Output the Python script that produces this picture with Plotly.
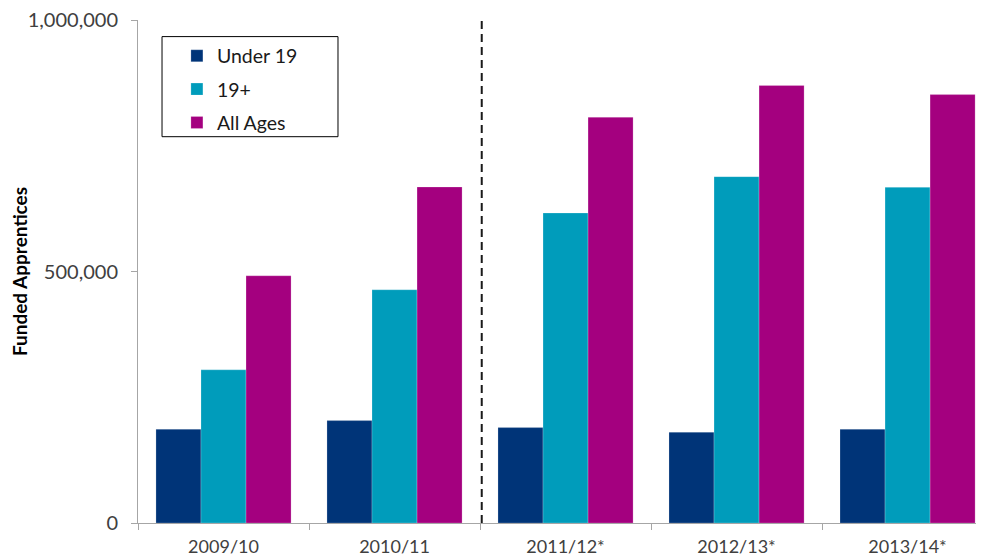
import plotly.graph_objects as go

categories = ["2009/10", "2010/11", "2011/12*", "2012/13*", "2013/14*"]
under_19 = [186500, 203600, 189700, 180500, 186500]
age_19_plus = [304500, 463700, 616300, 688600, 667300]
all_ages = [491500, 668000, 806600, 869700, 851700]

y_tickvals = [0, 500000, 1000000]
y_ticktext = ["0", "500,000", "1,000,000"]

FONT = "Lato"
TXT = "#404040"

fig = go.Figure()
series = [
    ("Under 19", under_19, "#003478"),
    ("19+", age_19_plus, "#009CBB"),
    ("All Ages", all_ages, "#A4007F"),
]
for name, vals, col in series:
    fig.add_trace(go.Bar(
        x=categories, y=vals, name=name, legendgroup=name,
        marker=dict(color=col, line=dict(color="rgba(255,255,255,0.35)", width=0.6)),
    ))

# period break marker
fig.add_shape(type="line", xref="x", yref="y", x0=1.51, x1=1.51, y0=0, y1=1000000,
              line=dict(color="#1a1a1a", width=2, dash="8px,5px"))
# legend frame
fig.add_shape(type="rect", xref="paper", yref="paper", x0=0.0284, x1=0.2364, y0=0.768, y1=0.967,
              line=dict(color="#000000", width=1), fillcolor="rgba(0,0,0,0)", layer="above")

# page body has an 8px offset; margins compensate for it
fig.update_layout(
    width=984, height=559,
    margin=dict(l=130, r=8, t=12, b=44, autoexpand=False),
    paper_bgcolor="white", plot_bgcolor="white",
    font=dict(family=FONT, size=19, color=TXT),
    barmode="group", bargap=0.21, bargroupgap=0,
    showlegend=True,
    legend=dict(
        x=0.046, y=0.967, xanchor="left", yanchor="top",
        borderwidth=0, bgcolor="rgba(0,0,0,0)",
        font=dict(family=FONT, size=19.5, color="#1a1a1a"),
        tracegroupgap=5, traceorder="grouped",
        itemwidth=30,
    ),
    xaxis=dict(
        type="category", range=[-0.5, 4.447], automargin=False,
        showline=True, linecolor="#a6a6a6", linewidth=1,
        ticks="outside", tickson="boundaries", ticklen=6, tickcolor="#a6a6a6",
        showgrid=False, zeroline=False,
        ticklabelstandoff=7,
        tickfont=dict(family=FONT, size=18, color=TXT),
    ),
    yaxis=dict(
        range=[0, 1000000], tickvals=y_tickvals, ticktext=y_ticktext, automargin=False,
        showline=True, linecolor="#a6a6a6", linewidth=1,
        ticks="outside", ticklen=6, tickcolor="#a6a6a6",
        showgrid=False, zeroline=False,
        ticklabelstandoff=9, ticklabeloverflow="allow",
        tickfont=dict(family=FONT, size=20, color=TXT),
        title=dict(text="<b>Funded Apprentices</b>", standoff=11,
                   font=dict(family=FONT, size=19, color="#000000")),
    ),
)

fig.write_html("out.html")
